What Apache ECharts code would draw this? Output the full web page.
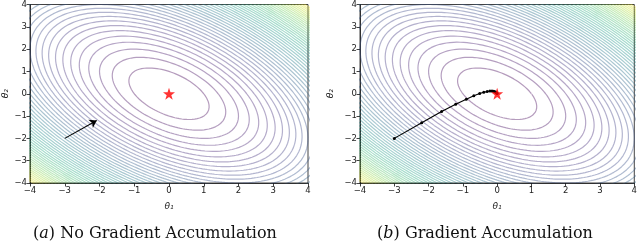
<!DOCTYPE html>
<html><head><meta charset="utf-8">
<script src="https://cdn.jsdelivr.net/npm/echarts@6/dist/echarts.min.js"></script>
<style>html,body{margin:0;padding:0;background:#fff}#c{width:640px;height:243px}</style>
</head><body><div id="c"></div>
<script>
// ---- data ----
const ticks = [-4, -3, -2, -1, 0, 1, 2, 3, 4];
const quadCoef = [1, 1, 1]; // loss = a*t1^2 + b*t1*t2 + c*t2^2
const levels = [1,2,3,4,5,6,7,8,9,10,11,12,13,14,15,16,17,18,19,20,21,22,23,24,25,26,27,28,29,30,31,32,33,34,35,36,37,38,39,40,41,42,43,44,45,46,47];
const levelRange = [0, 48];
const optimum = [0, 0];
const arrowA = [[-3, -2], [-2.08, -1.195]];
const pathB = [[-3, -2], [-2.2, -1.30], [-1.62, -0.80], [-1.21, -0.47], [-0.90, -0.25], [-0.68, -0.09],
  [-0.51, 0.01], [-0.39, 0.07], [-0.29, 0.10], [-0.21, 0.12], [-0.15, 0.12], [-0.10, 0.11],
  [-0.06, 0.09], [-0.03, 0.06], [-0.01, 0.03], [0, 0.01]];
const captions = [['a', ' No Gradient Accumulation'], ['b', ' Gradient Accumulation']];

// ---- styling helpers ----
const viridis = ['#440154','#482475','#414487','#355f8d','#2a788e','#21918c','#22a884','#44bf70','#7ad151','#bddf26','#fde725'];
function hex(h){return [parseInt(h.slice(1,3),16),parseInt(h.slice(3,5),16),parseInt(h.slice(5,7),16)];}
function cmap(t, alpha){
  t = Math.max(0, Math.min(1, t));
  const p = t * (viridis.length - 1), i = Math.min(Math.floor(p), viridis.length - 2), f = p - i;
  const a = hex(viridis[i]), b = hex(viridis[i+1]);
  const c = a.map((v, k) => Math.round(v + (b[k] - v) * f));
  return 'rgba(' + c.join(',') + ',' + alpha + ')';
}
function contour(L){
  const [a, b, c] = quadCoef, pts = [];
  const N = 360;
  for (let k = 0; k <= N; k++) {
    const t = 2 * Math.PI * k / N, dx = Math.cos(t), dy = Math.sin(t);
    const q = a*dx*dx + b*dx*dy + c*dy*dy;
    const r = Math.sqrt(L / q);
    pts.push([optimum[0] + r*dx, optimum[1] + r*dy]);
  }
  return pts;
}
const minus = v => String(v).replace('-', '\u2212');
const tickFont = {fontFamily: 'DejaVu Sans', fontSize: 8.5, color: '#222'};
const starPath = 'path://M50,0 L61.8,35.4 L99,35.4 L69,57.3 L80.4,92.7 L50,70.8 L19.6,92.7 L31,57.3 L1,35.4 L38.2,35.4 Z';

const grids = [{left: 30, top: 3, width: 278, height: 180}, {left: 360, top: 3, width: 277, height: 180}];
const captionX = [155, 485];
const xAxes = [], yAxes = [], series = [], graphics = [];
grids.forEach((g, gi) => {
  Object.assign(g, {show: true, borderColor: '#111', borderWidth: 0.8, backgroundColor: 'transparent'});
  xAxes.push({gridIndex: gi, type: 'value', min: -4, max: 4, interval: 1,
    axisLine: {show: true, onZero: false, lineStyle: {color: '#111', width: 0.8}},
    axisTick: {show: true, length: 3.5, lineStyle: {color: '#111', width: 0.8}},
    axisLabel: Object.assign({margin: 3, formatter: minus}, tickFont),
    splitLine: {show: false},
    name: '\u03b8\u2081', nameLocation: 'middle', nameGap: 19,
    nameTextStyle: {fontFamily: 'DejaVu Sans', fontStyle: 'italic', fontSize: 9, color: '#222'}});
  yAxes.push({gridIndex: gi, type: 'value', min: -4, max: 4, interval: 1,
    axisLine: {show: true, onZero: false, lineStyle: {color: '#111', width: 0.8}},
    axisTick: {show: true, length: 3.5, lineStyle: {color: '#111', width: 0.8}},
    axisLabel: Object.assign({margin: 3, formatter: minus}, tickFont),
    splitLine: {show: false},
    name: '\u03b8\u2082', nameLocation: 'middle', nameGap: gi === 0 ? 20 : 25,
    nameTextStyle: {fontFamily: 'DejaVu Sans', fontStyle: 'italic', fontSize: 9, color: '#222'}});
  levels.forEach(L => {
    series.push({type: 'line', xAxisIndex: gi, yAxisIndex: gi, data: contour(L), showSymbol: false, symbol: 'none',
      silent: true, clip: true, lineStyle: {width: 1.2, color: cmap((L - levelRange[0]) / (levelRange[1] - levelRange[0]), 0.4)}, z: 1});
  });
  graphics.push({type: 'text', x: captionX[gi], y: 234,
    style: {text: '{n|(}{i|' + captions[gi][0] + '}{n|)' + captions[gi][1] + '}', align: 'center', verticalAlign: 'middle',
      rich: {n: {fontFamily: 'DejaVu Serif', fontSize: 16, fill: '#111'}, i: {fontFamily: 'DejaVu Serif', fontStyle: 'italic', fontSize: 16, fill: '#111'}}}});
});
// arrow in panel (a)
series.push({type: 'line', xAxisIndex: 0, yAxisIndex: 0, data: [], silent: true, z: 5,
  markLine: {silent: true, animation: false, symbol: ['none', 'arrow'], symbolSize: 7, label: {show: false},
    lineStyle: {color: '#000', width: 1.1, type: 'solid'},
    data: [[{coord: arrowA[0]}, {coord: arrowA[1]}]]}});
// path in panel (b)
series.push({type: 'line', xAxisIndex: 1, yAxisIndex: 1, data: pathB, symbol: 'circle', symbolSize: 3, showSymbol: true,
  silent: true, z: 5, itemStyle: {color: '#000'}, lineStyle: {color: '#000', width: 1.1}});
// optimum stars
[0, 1].forEach(gi => series.push({type: 'scatter', xAxisIndex: gi, yAxisIndex: gi, data: [optimum], symbol: starPath,
  symbolSize: 12, silent: true, z: 6, itemStyle: {color: '#ff0000'}}));

const chart = echarts.init(document.getElementById('c'), null, {renderer: 'canvas'});
chart.setOption({animation: false, backgroundColor: '#fff', grid: grids, xAxis: xAxes, yAxis: yAxes, series, graphic: graphics});
</script></body></html>
